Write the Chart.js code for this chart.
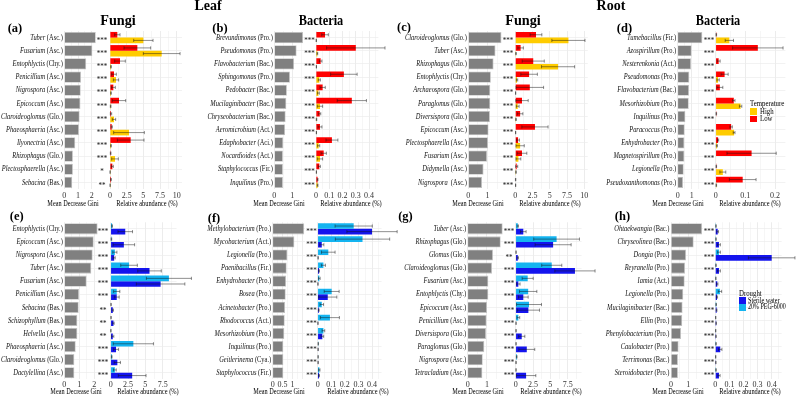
<!DOCTYPE html>
<html>
<head>
<meta charset="utf-8">
<script src="https://cdn.jsdelivr.net/npm/chart.js@4.4.1/dist/chart.umd.min.js"></script>
<style>
  body { margin: 0; background: #fff; }
  #fig { position: relative; width: 798px; height: 396px; overflow: hidden; background: #fff;
         font-family: "Liberation Serif", "Times New Roman", serif; }
  #fig canvas { position: absolute; }
  .t { position: absolute; white-space: nowrap; line-height: 1; color: #000; }
  .key { position: absolute; }
</style>
</head>
<body>
<div id="fig"></div>
<script>
// ---- (a) Leaf fungi, temperature
var aGenera = ["Tuber (Asc.)", "Fusarium (Asc.)", "Entophlyctis (Chy.)", "Penicillium (Asc.)", "Nigrospora (Asc.)", "Epicoccum (Asc.)",
  "Claroideoglomus (Glo.)", "Phaeosphaeria (Asc.)", "Ilyonectria (Asc.)", "Rhizophagus (Glo.)", "Plectosphaerella (Asc.)", "Sebacina (Bas.)"];
var aGini = [2.3, 2.05, 1.6, 1.22, 1.2, 1.18, 1.12, 1.07, 0.8, 0.63, 0.63, 0.58];
var aSig = ["***", "***", "***", "***", "***", "***", "***", "***", "***", "***", "*", "**"];
var aLow = [1.1, 4.1, 1.5, 0.6, 0.5, 1.35, 0.15, 0.25, 3.1, 0.1, 0.35, 0.15];
var aLowSd = [0.4, 2.0, 0.8, 0.35, 0.3, 1.0, 0.1, 0.1, 2.0, 0.05, 0.15, 0.05];
var aHigh = [5.0, 7.75, 0.15, 0.9, 0.15, 0.1, 0.6, 2.85, 0.15, 0.75, 0.02, 0.02];
var aHighSd = [1.45, 2.75, 0.05, 0.4, 0.05, 0.05, 0.25, 2.3, 0.05, 0.5, 0.01, 0.01];

// ---- (b) Leaf bacteria, temperature
var bGenera = ["Brevundimonas (Pro.)", "Pseudomonas (Pro.)", "Flavobacterium (Bac.)", "Sphingomonas (Pro.)", "Pedobacter (Bac.)",
  "Mucilaginibacter (Bac.)", "Chryseobacterium (Bac.)", "Aeromicrobium (Act.)", "Edaphobacter (Aci.)", "Nocardioides (Act.)",
  "Staphylococcus (Fir.)", "Inquilinus (Pro.)"];
var bGini = [1.6, 1.24, 1.1, 0.87, 0.7, 0.67, 0.63, 0.6, 0.5, 0.48, 0.48, 0.48];
var bSig = ["***", "***", "***", "***", "***", "***", "***", "***", "***", "***", "***", "***"];
var bLow = [0.068, 0.3, 0.035, 0.21, 0.05, 0.27, 0.028, 0.03, 0.12, 0.058, 0.025, 0.012];
var bLowSd = [0.025, 0.22, 0.01, 0.1, 0.02, 0.11, 0.008, 0.015, 0.045, 0.02, 0.008, 0.003];
var bHigh = [0.002, 0.01, 0.003, 0.025, 0.018, 0.03, 0.004, 0.003, 0.02, 0.03, 0.003, 0.012];
var bHighSd = [0.001, 0.003, 0.001, 0.008, 0.007, 0.02, 0.002, 0.001, 0.008, 0.02, 0.001, 0.003];

// ---- (c) Root fungi, temperature
var cGenera = ["Claroideoglomus (Glo.)", "Tuber (Asc.)", "Rhizophagus (Glo.)", "Entophlyctis (Chy.)", "Archaeospora (Glo.)",
  "Paraglomus (Glo.)", "Diversispora (Glo.)", "Epicoccum (Asc.)", "Plectosphaerella (Asc.)", "Fusarium (Asc.)",
  "Didymella (Asc.)", "Nigrospora  (Asc.)"];
var cGini = [1.72, 1.41, 1.31, 1.17, 1.14, 1.14, 1.12, 1.05, 1.02, 0.97, 0.79, 0.71];
var cSig = ["***", "***", "***", "***", "***", "***", "***", "***", "***", "***", "***", "***"];
var cLow = [3.0, 0.77, 2.6, 2.0, 2.1, 0.97, 0.7, 2.85, 0.4, 0.97, 0.2, 0.05];
var cLowSd = [0.85, 0.4, 1.6, 1.2, 2.0, 0.9, 0.4, 1.9, 0.2, 0.7, 0.15, 0.03];
var cHigh = [7.7, 0.1, 6.2, 0.25, 0.05, 0.35, 0.1, 0.05, 0.7, 0.45, 0.1, 0.05];
var cHighSd = [2.4, 0.05, 2.4, 0.1, 0.02, 0.2, 0.05, 0.02, 0.6, 0.35, 0.05, 0.02];

// ---- (d) Root bacteria, temperature
var dGenera = ["Tumebacillus (Fir.)", "Azospirillum (Pro.)", "Nesterenkonia (Act.)", "Pseudomonas (Pro.)", "Flavobacterium (Bac.)",
  "Mesorhizobium (Pro.)", "Inquilinus (Pro.)", "Paracoccus (Pro.)", "Enhydrobacter (Pro.)", "Magnetospirillum (Pro.)",
  "Legionella (Pro.)", "Pseudoxanthomonas (Pro.)"];
var dGini = [1.76, 1.0, 0.95, 0.83, 0.81, 0.79, 0.55, 0.5, 0.48, 0.48, 0.43, 0.38];
var dSig = ["***", "***", "***", "***", "***", "***", "***", "***", "***", "***", "***", "***"];
var dLow = [0.002, 0.142, 0.01, 0.03, 0.014, 0.061, 0.002, 0.052, 0.008, 0.121, 0.002, 0.091];
var dLowSd = [0.001, 0.085, 0.005, 0.012, 0.01, 0.004, 0.001, 0.004, 0.002, 0.083, 0.001, 0.045];
var dHigh = [0.046, 0.001, 0.001, 0.008, 0.001, 0.084, 0.001, 0.062, 0.004, 0.001, 0.024, 0.002];
var dHighSd = [0.014, 0, 0, 0.004, 0, 0.004, 0, 0.003, 0.002, 0, 0.01, 0.001];

// ---- (e) Leaf fungi, drought
var eGenera = ["Entophlyctis (Chy.)", "Epicoccum (Asc.)", "Nigrospora (Asc.)", "Tuber (Asc.)", "Fusarium (Asc.)", "Penicillium (Asc.)",
  "Sebacina (Bas.)", "Schizophyllum (Bas.)", "Helvella (Asc.)", "Phaeosphaeria (Asc.)", "Claroideoglomus (Glo.)", "Dactylellina (Asc.)"];
var eGini = [2.22, 1.96, 1.89, 1.8, 1.49, 0.98, 0.96, 0.87, 0.87, 0.76, 0.67, 0.67];
var eSig = ["***", "***", "***", "***", "***", "***", "**", "**", "**", "***", "***", "***"];
var ePeg = [0.2, 0.1, 0.6, 2.65, 8.4, 0.87, 0.05, 0.05, 0.03, 3.27, 0.15, 0.6];
var ePegSd = [0.05, 0.05, 0.3, 1.2, 3.25, 0.45, 0.02, 0.02, 0.02, 2.9, 0.05, 0.2];
var eWater = [2.1, 1.9, 0.5, 5.6, 7.2, 0.87, 0.3, 0.4, 0.3, 0.77, 0.96, 3.1];
var eWaterSd = [1.05, 1.55, 0.15, 1.7, 3.5, 0.35, 0.1, 0.1, 0.15, 0.35, 0.45, 2.0];

// ---- (f) Leaf bacteria, drought
var fGenera = ["Methylobacterium (Pro.)", "Mycobacterium (Act.)", "Legionella (Pro.)", "Paenibacillus (Fir.)", "Enhydrobacter (Pro.)",
  "Bosea (Pro.)", "Acinetobacter (Pro.)", "Rhodococcus (Act.)", "Mesorhizobium (Pro.)", "Inquilinus (Pro.)",
  "Geitlerinema (Cya.)", "Staphylococcus (Fir.)"];
var fGini = [1.6, 1.1, 0.75, 0.71, 0.68, 0.66, 0.63, 0.61, 0.59, 0.54, 0.54, 0.54];
var fSig = ["***", "***", "***", "***", "***", "***", "***", "***", "***", "***", "***", "***"];
var fPeg = [0.265, 0.33, 0.078, 0.042, 0.012, 0.103, 0.03, 0.09, 0.042, 0.004, 0.003, 0.012];
var fPegSd = [0.137, 0.2, 0.05, 0.015, 0.006, 0.055, 0.013, 0.07, 0.01, 0.001, 0.001, 0.005];
var fWater = [0.4, 0.03, 0.003, 0.01, 0.002, 0.074, 0.008, 0.002, 0.034, 0.003, 0.003, 0.01];
var fWaterSd = [0.185, 0.015, 0.001, 0.003, 0.001, 0.067, 0.003, 0.001, 0.01, 0.001, 0.001, 0.003];

// ---- (g) Root fungi, drought
var gGenera = ["Tuber (Asc.)", "Rhizophagus (Glo.)", "Glomus (Glo.)", "Claroideoglomus (Glo.)", "Fusarium (Asc.)", "Entophlyctis (Chy.)",
  "Epicoccum (Asc.)", "Penicillium (Asc.)", "Diversispora (Glo.)", "Paraglomus (Glo.)", "Nigrospora (Asc.)", "Tetracladium (Asc.)"];
var gGini = [1.81, 1.71, 1.31, 1.26, 1.07, 1.07, 1.0, 0.98, 0.95, 0.86, 0.78, 0.76];
var gSig = ["***", "***", "**", "***", "***", "***", "***", "***", "***", "***", "***", "***"];
var gPeg = [0.3, 5.9, 0.05, 5.2, 1.73, 1.8, 1.92, 0.38, 0.05, 0.05, 0.15, 0.05];
var gPegSd = [0.1, 3.3, 0.02, 1.45, 0.8, 1.25, 1.8, 0.2, 0.02, 0.02, 0.05, 0.02];
var gWater = [1.1, 5.4, 0.3, 8.55, 0.38, 1.1, 1.83, 0.05, 0.87, 1.6, 0.05, 1.5];
var gWaterSd = [0.4, 2.6, 0.1, 2.9, 0.25, 0.7, 1.6, 0.02, 0.45, 1.15, 0.02, 1.4];

// ---- (h) Root bacteria, drought
var hGenera = ["Ohtaekwangia (Bac.)", "Chryseolinea (Bac.)", "Dongia (Pro.)", "Reyranella (Pro.)", "Iamia (Act.)", "Legionella (Pro.)",
  "Mucilaginibacter (Bac.)", "Ellin (Pro.)", "Phenylobacterium (Pro.)", "Caulobacter (Pro.)", "Terrimonas (Bac.)", "Steroidobacter (Pro.)"];
var hGini = [1.8, 1.31, 0.87, 0.81, 0.79, 0.71, 0.67, 0.65, 0.58, 0.44, 0.4, 0.4];
var hSig = ["***", "***", "***", "***", "***", "***", "***", "***", "***", "***", "***", "***"];
var hPeg = [0.005, 0.005, 0.026, 0.005, 0.004, 0.033, 0.006, 0.003, 0.003, 0.005, 0.003, 0.005];
var hPegSd = [0.002, 0.002, 0.01, 0.002, 0.001, 0.012, 0.002, 0.001, 0.001, 0.002, 0.001, 0.002];
var hWater = [0.017, 0.026, 0.4, 0.026, 0.014, 0.012, 0.009, 0.006, 0.005, 0.035, 0.004, 0.026];
var hWaterSd = [0.006, 0.01, 0.165, 0.01, 0.005, 0.004, 0.003, 0.002, 0.002, 0.012, 0.001, 0.008];

var RED = "#FF0000", GOLD = "#FFCC00", DARK = "#1414EE", LIGHT = "#14B4F0";
var SERIF = '"Liberation Serif", "Times New Roman", serif';
var fig = document.getElementById("fig");

var topRow = { top: 31, bottom: 189, tickPad: 2.5 };
var botRow = { top: 222.3, bottom: 379.3, tickPad: 1 };

// layout of each panel, in page pixels
var panels = [
  { row: topRow, names: aGenera, gini: aGini, sig: aSig, sets: [[aLow, aLowSd, RED], [aHigh, aHighSd, GOLD]],
    left: 0, gx0: 64.3, gpu: 13.7, gx1: 97, gStep: 1, gLab: 2, starX: 102, ax0: 110, apu: 6.67, ax1: 182, aStep: 2.5, aLab: 10 },
  { row: topRow, names: bGenera, gini: bGini, sig: bSig, sets: [[bLow, bLowSd, RED], [bHigh, bHighSd, GOLD]],
    left: 195, gx0: 274.3, gpu: 18, gx1: 304.5, gStep: 1, gLab: 1, starX: 309.5, ax0: 316, apu: 132.7, ax1: 378.4, aStep: 0.1, aLab: 0.4 },
  { row: topRow, names: cGenera, gini: cGini, sig: cSig, sets: [[cLow, cLowSd, RED], [cHigh, cHighSd, GOLD]],
    left: 395, gx0: 468.3, gpu: 19.3, gx1: 503, gStep: 1, gLab: 1, starX: 508, ax0: 515.3, apu: 6.9, ax1: 587.8, aStep: 2.5, aLab: 10 },
  { row: topRow, names: dGenera, gini: dGini, sig: dSig, sets: [[dLow, dLowSd, RED], [dHigh, dHighSd, GOLD]],
    left: 595, gx0: 677.7, gpu: 14, gx1: 703.5, gStep: 1, gLab: 1, starX: 709, ax0: 715.7, apu: 296.7, ax1: 785.4, aStep: 0.1, aLab: 0.2 },
  { row: botRow, names: eGenera, gini: eGini, sig: eSig, sets: [[ePeg, ePegSd, LIGHT], [eWater, eWaterSd, DARK]],
    left: 0, gx0: 64.3, gpu: 15, gx1: 98.5, gStep: 1, gLab: 2, starX: 103, ax0: 110.7, apu: 6.93, ax1: 176.5, aStep: 2.5, aLab: 7.5 },
  { row: botRow, names: fGenera, gini: fGini, sig: fSig, sets: [[fPeg, fPegSd, LIGHT], [fWater, fWaterSd, DARK]],
    left: 195, gx0: 272.7, gpu: 19.7, gx1: 305, gStep: 0.5, gLab: 1, starX: 311.5, ax0: 317.7, apu: 135.8, ax1: 381.5, aStep: 0.1, aLab: 0.4 },
  { row: botRow, names: gGenera, gini: gGini, sig: gSig, sets: [[gPeg, gPegSd, LIGHT], [gWater, gWaterSd, DARK]],
    left: 395, gx0: 467.7, gpu: 19.3, gx1: 503.5, gStep: 1, gLab: 1, starX: 509, ax0: 515.7, apu: 6.93, ax1: 581.5, aStep: 2.5, aLab: 7.5 },
  { row: botRow, names: hGenera, gini: hGini, sig: hSig, sets: [[hPeg, hPegSd, LIGHT], [hWater, hWaterSd, DARK]],
    left: 595, gx0: 671, gpu: 17.3, gx1: 703, gStep: 1, gLab: 1, starX: 709, ax0: 715.3, apu: 141, ax1: 781.6, aStep: 0.1, aLab: 0.4 }
];

function addText(str, x, y, size, opts) {
  opts = opts || {};
  var d = document.createElement("div");
  d.className = "t";
  d.textContent = str;
  d.style.left = x + "px";
  d.style.top = y + "px";
  d.style.fontSize = size + "px";
  if (opts.bold) d.style.fontWeight = "bold";
  var sx = opts.sx || 1;
  if (opts.align === "left") {
    d.style.transformOrigin = "0 50%";
    d.style.transform = "translateY(-50%) scaleX(" + sx + ")";
  } else {
    d.style.transform = "translate(-50%,-50%) scaleX(" + sx + ")";
  }
  fig.appendChild(d);
}

function addKey(x, y, w, h, color) {
  var d = document.createElement("div");
  d.className = "key";
  d.style.left = x + "px";
  d.style.top = y + "px";
  d.style.width = w + "px";
  d.style.height = h + "px";
  d.style.background = color;
  fig.appendChild(d);
}

function fmt(v) {
  return String(Number(v.toFixed(3)));
}
function isMajor(v, step) {
  var r = v / step;
  return Math.abs(r - Math.round(r)) < 1e-6;
}

function valueAxis(max, step, labMax, pad) {
  return {
    type: "linear",
    min: 0,
    max: max,
    ticks: {
      stepSize: step / 2,
      includeBounds: false,
      autoSkip: false,
      maxRotation: 0,
      padding: pad,
      color: "#333",
      font: { family: SERIF, size: 8 },
      callback: function (v) {
        return isMajor(v, step) && v <= labMax + 1e-9 ? fmt(v) : "";
      },
    },
    grid: {
      drawTicks: false,
      lineWidth: 0.7,
      color: function (c) {
        return c.tick && isMajor(c.tick.value, step) ? "#e4e4e4" : "#f2f2f2";
      },
    },
    border: { display: false },
    afterFit: function (s) {
      s.height = 12;
    },
  };
}

function catAxis() {
  return {
    type: "category",
    offset: true,
    ticks: { display: false },
    grid: { offset: false, drawTicks: false, color: "#ececec", lineWidth: 0.7 },
    border: { display: false },
    afterFit: function (s) {
      s.width = 0;
    },
  };
}

// canvas box around a plot area x0..x1 of a row
function frame(x0, x1, row, padL, padR) {
  var L = Math.floor(x0 - padL), T = Math.floor(row.top - 2);
  var W = Math.ceil(x1 + padR - L), H = Math.ceil(row.bottom - T + 12);
  return {
    L: L, T: T, W: W, H: H,
    padding: { left: x0 - L, right: L + W - x1, top: row.top - T, bottom: H - 12 - (row.bottom - T) },
  };
}

function addChart(f, cfg) {
  var c = document.createElement("canvas");
  c.width = f.W;
  c.height = f.H;
  c.style.left = f.L + "px";
  c.style.top = f.T + "px";
  c.style.width = f.W + "px";
  c.style.height = f.H + "px";
  fig.appendChild(c);
  return new Chart(c.getContext("2d"), cfg);
}

// genus names (italic) + phylum (upright), and the significance stars
function rowTextPlugin(p, f) {
  return {
    id: "rowText",
    afterDraw: function (chart) {
      var ctx = chart.ctx, ys = chart.scales.y, ca = chart.chartArea;
      var it = "italic 8.5px " + SERIF, up = "8.5px " + SERIF;
      ctx.save();
      ctx.fillStyle = "#111";
      ctx.textBaseline = "middle";
      p.names.forEach(function (name, i) {
        var y = ys.getPixelForValue(i);
        var k = name.indexOf(" (");
        var genus = name.slice(0, k), rest = name.slice(k);
        ctx.font = it;
        var w1 = ctx.measureText(genus).width;
        ctx.font = up;
        var w2 = ctx.measureText(rest).width;
        ctx.save();
        ctx.translate(ca.left - 1.5, y);
        ctx.scale(0.76, 1);
        ctx.font = it;
        ctx.fillText(genus, -(w1 + w2), 0);
        ctx.font = up;
        ctx.fillText(rest, -w2, 0);
        ctx.restore();

        ctx.save();
        ctx.translate(p.starX - f.L, y + 5.2);
        ctx.scale(0.78, 1);
        ctx.textAlign = "center";
        ctx.textBaseline = "alphabetic";
        ctx.font = "9px " + SERIF;
        ctx.fillText(p.sig[i], 0, 0);
        ctx.restore();
      });
      ctx.restore();
    },
  };
}

var errorBarPlugin = {
  id: "errBars",
  afterDatasetsDraw: function (chart) {
    var ctx = chart.ctx, xs = chart.scales.x;
    ctx.save();
    ctx.strokeStyle = "rgba(20,20,20,0.6)";
    ctx.lineWidth = 0.8;
    chart.data.datasets.forEach(function (ds, d) {
      chart.getDatasetMeta(d).data.forEach(function (bar, i) {
        var v = ds.data[i], e = ds.sd[i];
        if (!e) return;
        var x1 = xs.getPixelForValue(Math.max(0, v - e));
        var x2 = xs.getPixelForValue(v + e);
        var h = 1.6;
        ctx.beginPath();
        ctx.moveTo(x1, bar.y);
        ctx.lineTo(x2, bar.y);
        ctx.moveTo(x1, bar.y - h);
        ctx.lineTo(x1, bar.y + h);
        ctx.moveTo(x2, bar.y - h);
        ctx.lineTo(x2, bar.y + h);
        ctx.stroke();
      });
    });
    ctx.restore();
  },
};

panels.forEach(function (p) {
  // Mean Decrease Gini bars
  var fg = frame(p.gx0, p.gx1, p.row, p.gx0 - p.left, p.starX + 8 - p.gx1);
  addChart(fg, {
    type: "bar",
    data: {
      labels: p.names,
      datasets: [{
        data: p.gini,
        backgroundColor: "#808080",
        borderColor: "#c4c4c4",
        borderWidth: 0.8,
        barPercentage: 0.85,
        categoryPercentage: 1,
      }],
    },
    options: {
      indexAxis: "y",
      responsive: false,
      animation: false,
      events: [],
      layout: { padding: fg.padding },
      scales: { x: valueAxis((p.gx1 - p.gx0) / p.gpu, p.gStep, p.gLab, p.row.tickPad), y: catAxis() },
      plugins: { legend: { display: false }, tooltip: { enabled: false } },
    },
    plugins: [rowTextPlugin(p, fg)],
  });

  // relative abundance, two groups with error bars
  var fa = frame(p.ax0, p.ax1, p.row, 5, 22);
  addChart(fa, {
    type: "bar",
    data: {
      labels: p.names,
      datasets: p.sets.map(function (s) {
        return {
          data: s[0],
          sd: s[1],
          backgroundColor: s[2],
          borderWidth: 0,
          barPercentage: 1,
          categoryPercentage: 0.86,
        };
      }),
    },
    options: {
      indexAxis: "y",
      responsive: false,
      animation: false,
      events: [],
      layout: { padding: fa.padding },
      scales: { x: valueAxis((p.ax1 - p.ax0) / p.apu, p.aStep, p.aLab, p.row.tickPad), y: catAxis() },
      plugins: { legend: { display: false }, tooltip: { enabled: false } },
    },
    plugins: [errorBarPlugin],
  });
});

// titles
addText("Leaf", 208, 6, 14, { bold: true });
addText("Root", 611, 6, 14, { bold: true });
addText("Fungi", 118, 20, 15, { bold: true, sx: 0.95 });
addText("Bacteria", 321, 21, 14, { bold: true, sx: 0.88 });
addText("Fungi", 522.5, 20, 15, { bold: true, sx: 0.95 });
addText("Bacteria", 717.5, 21, 14, { bold: true, sx: 0.88 });

var letters = [["(a)", 15, 28], ["(b)", 220, 27.5], ["(c)", 404, 27], ["(d)", 624.5, 28],
  ["(e)", 16.7, 216], ["(f)", 214, 217.5], ["(g)", 405.5, 216], ["(h)", 622.5, 216]];
letters.forEach(function (l) {
  addText(l[0], l[1], l[2], 12.5, { bold: true });
});

var giniTitleX = [73.3, 278.7, 478, 677.5, 75.8, 279, 477.5, 677.5];
var abunTitleX = [146.7, 351, 550, 750, 148, 358, 551, 750];
giniTitleX.forEach(function (x, i) {
  var y = i < 4 ? 203.5 : 392;
  addText("Mean Decrease Gini", x, y, 8, { sx: 0.78 });
  addText("Relative abundance (%)", abunTitleX[i], y, 8, { sx: 0.8 });
});

// legends
addText("Temperature", 750, 103, 8.5, { align: "left", sx: 0.8 });
addKey(750, 108.3, 6.5, 6.5, GOLD);
addKey(750, 115.5, 6.5, 6.5, RED);
addText("High", 759.5, 111.6, 8, { align: "left", sx: 0.85 });
addText("Low", 759.5, 118.8, 8, { align: "left", sx: 0.85 });

addText("Drought", 738.5, 292.5, 8.5, { align: "left", sx: 0.8 });
addKey(739, 297.2, 7, 6.7, DARK);
addKey(739, 304, 7, 6.7, LIGHT);
addText("Sterile water", 748, 300.6, 8, { align: "left", sx: 0.78 });
addText("20% PEG-6000", 748, 307.4, 8, { align: "left", sx: 0.75 });
</script>
</body>
</html>
